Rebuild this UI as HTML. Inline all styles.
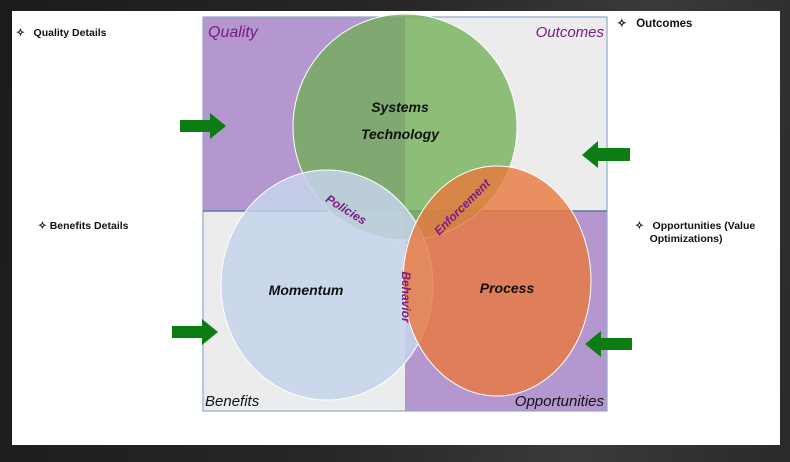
<!DOCTYPE html>
<html><head><meta charset="utf-8"><style>
body{margin:0;width:790px;height:462px;overflow:hidden;background:#1e1e1e;font-family:"Liberation Sans",sans-serif}
.bg{position:absolute;left:0;top:0;width:790px;height:462px;background:linear-gradient(100deg,#1c1c1c 0%,#262626 45%,#3a3a3a 75%,#2a2a2a 100%)}
.w{position:absolute;left:12px;top:11px;width:768px;height:434px;background:#fff}
.t{position:absolute;font-weight:bold;font-size:10.5px;color:#111}
</style></head><body>
<div class="bg"></div><div class="w"></div>
<svg style="position:absolute;left:0;top:0" width="790" height="462">
<rect x="203" y="17" width="202" height="194" fill="#b497cf"/>
<rect x="405" y="17" width="202" height="194" fill="#ececec"/>
<rect x="203" y="211" width="202" height="200" fill="#ececec"/>
<rect x="405" y="211" width="202" height="200" fill="#b497cf"/>
<rect x="203" y="17" width="404" height="394" fill="none" stroke="#8fa8c8" stroke-width="1.2"/>
<line x1="203" y1="211" x2="607" y2="211" stroke="#5a7aa0" stroke-width="1.5"/>
<ellipse cx="405" cy="127" rx="112" ry="113" fill="rgba(110,175,80,0.75)" stroke="#fff" stroke-width="1"/>
<ellipse cx="327" cy="285" rx="106" ry="115" fill="rgba(197,211,234,0.85)" stroke="#fff" stroke-width="1"/>
<ellipse cx="497" cy="281" rx="94" ry="115" fill="rgba(234,120,60,0.8)" stroke="#fff" stroke-width="1"/>
<g fill="#0b7d12">
<polygon points="180,120 210,120 210,113 226,126 210,139 210,132 180,132"/>
<polygon points="172,326 202,326 202,319 218,332 202,345 202,338 172,338"/>
<polygon points="630,148 598,148 598,141 582,155 598,168 598,161 630,161"/>
<polygon points="632,338 601,338 601,331 585,344 601,357 601,350 632,350"/>
</g>
<g font-family="Liberation Sans,sans-serif" font-style="italic">
<text x="208" y="37" font-size="16" fill="#7a1c85">Quality</text>
<text x="604" y="37" font-size="15" fill="#7a1c85" text-anchor="end">Outcomes</text>
<text x="205" y="406" font-size="15" fill="#111">Benefits</text>
<text x="604" y="406" font-size="15" fill="#111" text-anchor="end">Opportunities</text>
<text x="400" y="112" font-size="14" font-weight="bold" fill="#111" text-anchor="middle">Systems</text>
<text x="400" y="139" font-size="14" font-weight="bold" fill="#111" text-anchor="middle">Technology</text>
<text x="306" y="295" font-size="14" font-weight="bold" fill="#111" text-anchor="middle">Momentum</text>
<text x="507" y="293" font-size="14" font-weight="bold" fill="#111" text-anchor="middle">Process</text>
<text transform="translate(344,213) rotate(32)" font-size="12" font-weight="bold" fill="#7a1c85" text-anchor="middle">Policies</text>
<text transform="translate(465,210) rotate(-45)" font-size="12" font-weight="bold" fill="#7a1c85" text-anchor="middle">Enforcement</text>
<text transform="translate(402,297) rotate(90)" font-size="12" font-weight="bold" fill="#7a1c85" text-anchor="middle">Behavior</text>
</g>
</svg>
<div class="t" style="left:16px;top:27px">✧&nbsp;&nbsp; Quality Details</div>
<div class="t" style="left:38px;top:220px">✧ Benefits Details</div>
<div class="t" style="left:617px;top:16px;font-size:11.5px">✧&nbsp;&nbsp; Outcomes</div>
<div class="t" style="left:635px;top:220px;line-height:13px">✧&nbsp;&nbsp; Opportunities (Value<br>&nbsp;&nbsp;&nbsp;&nbsp;&nbsp;Optimizations)</div>
</body></html>
